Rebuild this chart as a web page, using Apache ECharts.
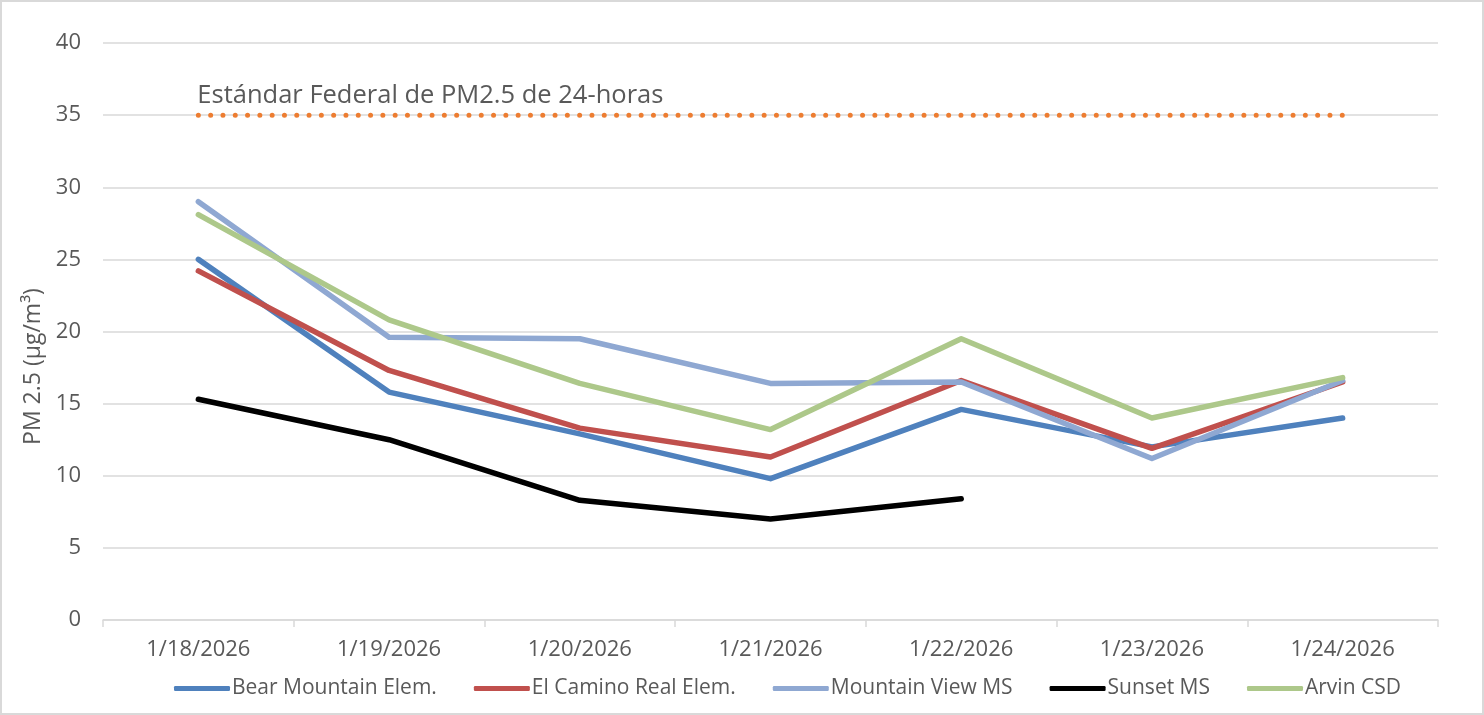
<!DOCTYPE html>
<html>
<head>
<meta charset="utf-8">
<script src="https://cdn.jsdelivr.net/npm/echarts@6/dist/echarts.min.js"></script>
<style>
  html, body { margin: 0; padding: 0; background: #fff; }
  #chart { width: 1484px; height: 715px; box-sizing: border-box; border: 2px solid #d9d9d9; }
</style>
</head>
<body>
<div id="chart"></div>
<script>
var dates = ['1/18/2026', '1/19/2026', '1/20/2026', '1/21/2026', '1/22/2026', '1/23/2026', '1/24/2026'];
var bearMountain = [25.0, 15.8, 12.9, 9.8, 14.6, 12.0, 14.0];
var elCamino = [24.2, 17.3, 13.3, 11.3, 16.6, 11.9, 16.5];
var mountainView = [29.0, 19.6, 19.5, 16.4, 16.5, 11.2, 16.6];
var sunset = [15.3, 12.5, 8.3, 7.0, 8.4, null, null];
var arvin = [28.1, 20.8, 16.4, 13.2, 19.5, 14.0, 16.8];
var federalStd = [35, 35, 35, 35, 35, 35, 35];
var stdLabel = 'Estándar Federal de PM2.5 de 24-horas';

var font = '"Open Sans", "Noto Sans", sans-serif';

function stationLine(name, data, color) {
  return {
    name: name,
    type: 'line',
    data: data,
    symbol: 'none',
    lineStyle: { color: color, width: 5.5, cap: 'round', join: 'round' },
    itemStyle: { color: color },
    emphasis: { disabled: true }
  };
}

// first point carries the text label for the 35 line
var stdData = federalStd.map(function (v, i) {
  if (i == 0) {
    return {
      value: v,
      label: {
        show: true, formatter: stdLabel, position: 'top', align: 'left',
        distance: 5, offset: [-1, -1], fontSize: 25.5, color: '#595959', fontFamily: font
      }
    };
  }
  return v;
});

var chart = echarts.init(document.getElementById('chart'));
chart.setOption({
  animation: false,
  backgroundColor: '#fff',
  textStyle: { fontFamily: font },
  grid: { left: 101, right: 44, top: 41, bottom: 93 },
  legend: {
    data: ['Bear Mountain Elem.', 'El Camino Real Elem.', 'Mountain View MS', 'Sunset MS', 'Arvin CSD'],
    top: 671,
    left: 167,
    itemWidth: 56,
    itemHeight: 5,
    itemGap: 37,
    icon: 'roundRect',
    textStyle: { fontSize: 21, color: '#595959', padding: [0, 0, 0, -3] }
  },
  xAxis: {
    type: 'category',
    data: dates,
    boundaryGap: true,
    axisLine: { lineStyle: { color: '#d9d9d9', width: 1.5 } },
    axisTick: { show: true, length: 7, lineStyle: { color: '#d9d9d9', width: 1.5 } },
    axisLabel: { fontSize: 22, color: '#595959', margin: 19 },
    splitLine: { show: false }
  },
  yAxis: {
    type: 'value',
    min: 0,
    max: 40,
    interval: 5,
    name: 'PM 2.5 (µg/m³)',
    nameLocation: 'middle',
    nameGap: 58,
    nameTextStyle: { fontSize: 23, color: '#595959', padding: [0, 70, 0, 0] },
    axisLine: { show: false },
    axisTick: { show: false },
    axisLabel: { fontSize: 22, color: '#595959', margin: 22 },
    splitLine: { lineStyle: { color: '#d9d9d9', width: 1.5 } }
  },
  series: [
    {
      name: 'std',
      type: 'line',
      data: stdData,
      symbol: 'circle',
      symbolSize: 1,
      showSymbol: true,
      showAllSymbol: true,
      itemStyle: { color: 'rgba(0,0,0,0)', borderWidth: 0 },
      silent: true,
      lineStyle: { color: '#ed7d31', width: 5, type: [0, 12.3], cap: 'round' },
      z: 1
    },
    stationLine('Bear Mountain Elem.', bearMountain, '#4f81bd'),
    stationLine('El Camino Real Elem.', elCamino, '#c0504d'),
    stationLine('Mountain View MS', mountainView, '#8fa8d2'),
    stationLine('Sunset MS', sunset, '#000000'),
    stationLine('Arvin CSD', arvin, '#adc88a')
  ]
});
</script>
</body>
</html>
